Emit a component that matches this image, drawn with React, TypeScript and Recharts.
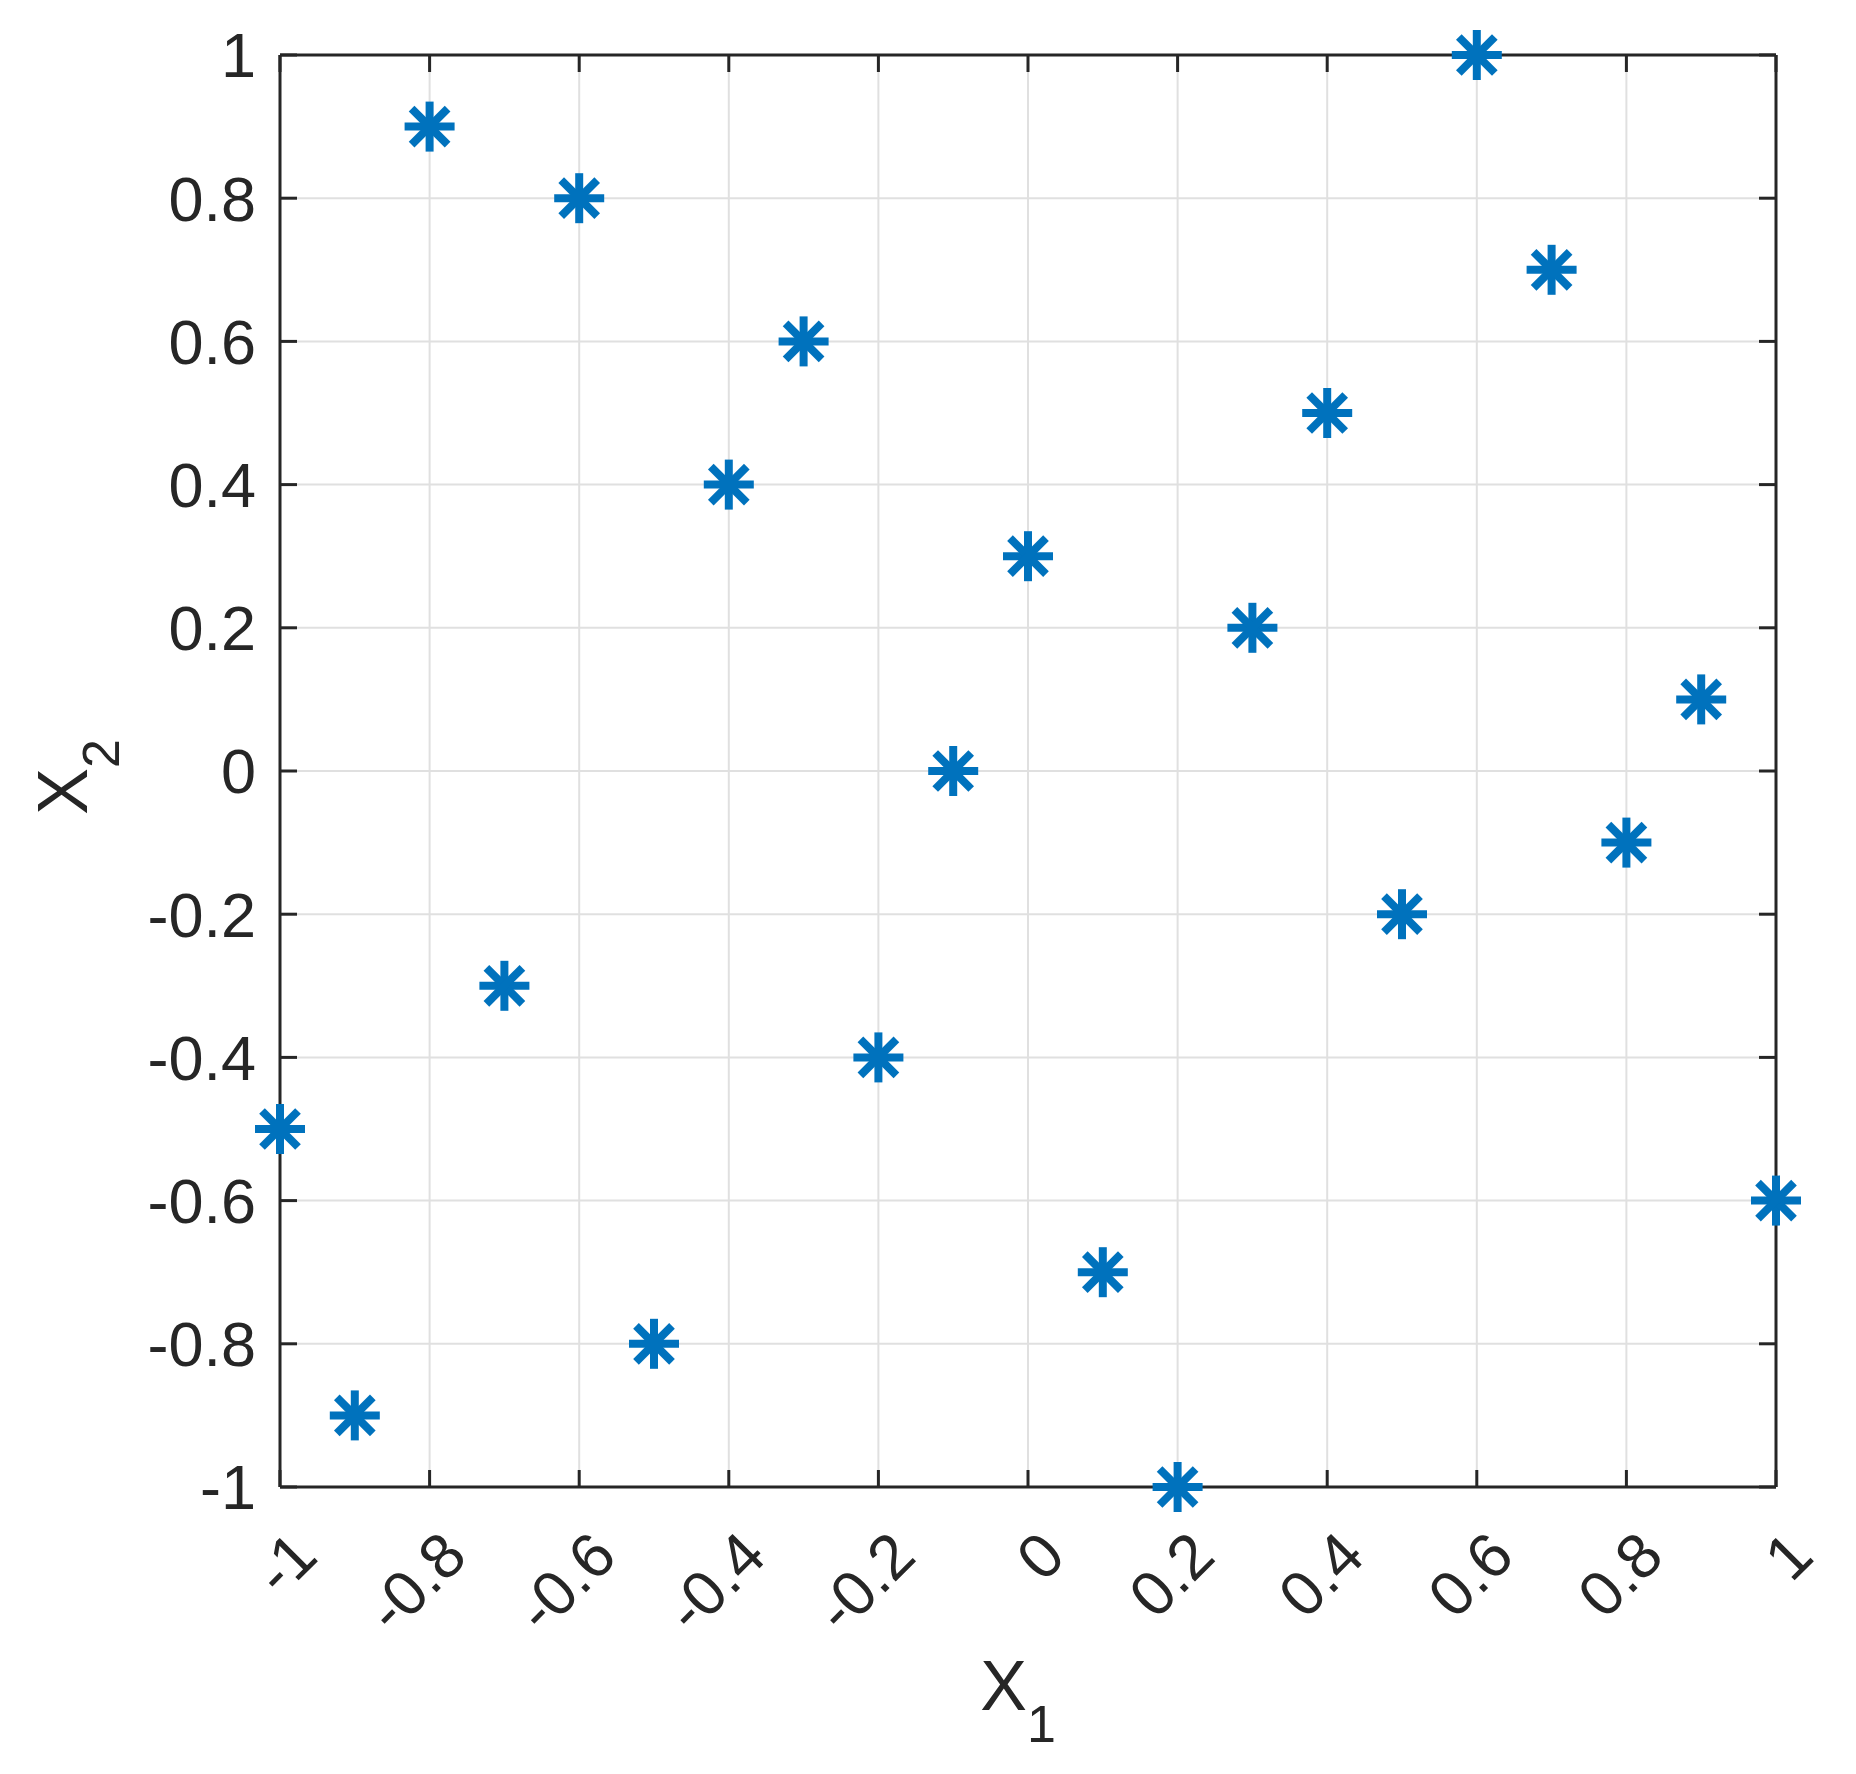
import { CartesianGrid, Scatter, ScatterChart, XAxis, YAxis } from "recharts";

const x1Values = [-1, -0.9, -0.8, -0.7, -0.6, -0.5, -0.4, -0.3, -0.2, -0.1, 0, 0.1, 0.2, 0.3, 0.4, 0.5, 0.6, 0.7, 0.8, 0.9, 1];
const x2Values = [-0.5, -0.9, 0.9, -0.3, 0.8, -0.8, 0.4, 0.6, -0.4, 0, 0.3, -0.7, -1, 0.2, 0.5, -0.2, 1, 0.7, -0.1, 0.1, -0.6];
const tickValues = [-1, -0.8, -0.6, -0.4, -0.2, 0, 0.2, 0.4, 0.6, 0.8, 1];

const points = x1Values.map((x, i) => ({ x, y: x2Values[i] }));

const FONT = "'Liberation Sans', Arial, Helvetica, sans-serif";
const INK = "#262626";
const BLUE = "#0072BD";
const TICK_FONT = 63;
const LABEL_FONT = 70;

function Asterisk(props: any) {
  const { cx, cy } = props;
  const r = 25;
  const d = 18;
  return (
    <g stroke={BLUE} strokeWidth={8}>
      <line x1={cx - r} y1={cy} x2={cx + r} y2={cy} />
      <line x1={cx} y1={cy - r} x2={cx} y2={cy + r} />
      <line x1={cx - d} y1={cy - d} x2={cx + d} y2={cy + d} />
      <line x1={cx - d} y1={cy + d} x2={cx + d} y2={cy - d} />
    </g>
  );
}

// nothing drawn: only ties the top/right frame axes to data
const NoMark = () => <g />;
const NoLabel = () => <g />;

function XTick(props: any) {
  const { x, y, payload } = props;
  const ax = x + 40;
  const ay = y + 72;
  return (
    <text x={ax} y={ay} textAnchor="end" transform={`rotate(-45, ${ax}, ${ay})`} fill={INK} fontSize={TICK_FONT} fontFamily={FONT}>
      {String(payload.value)}
    </text>
  );
}

function XLabel(props: any) {
  const { x, y, width } = props.viewBox;
  return (
    <text x={x + width / 2 - 10} y={y + 223} textAnchor="middle" fill={INK} fontSize={LABEL_FONT} fontFamily={FONT}>
      X<tspan dy={32} fontSize={52}>1</tspan>
    </text>
  );
}

function YLabel(props: any) {
  const { y, height } = props.viewBox;
  const lx = 87;
  const ly = y + height / 2 + 6;
  return (
    <text x={lx} y={ly} textAnchor="middle" transform={`rotate(-90, ${lx}, ${ly})`} fill={INK} fontSize={LABEL_FONT} fontFamily={FONT}>
      X<tspan dy={32} fontSize={52}>2</tspan>
    </text>
  );
}

const axisLine = { stroke: INK, strokeWidth: 3 };
const tickLine = { stroke: INK, strokeWidth: 3 };

export default function App() {
  return (
    <div style={{ width: 1856, height: 1774, background: "#fff" }}>
      <style>{"body{margin:0}"}</style>
      <ScatterChart width={1856} height={1774} margin={{ top: 54, right: 79, bottom: 0, left: 0 }}>
        <CartesianGrid stroke="#e0e0e0" strokeWidth={2} />
        <XAxis
          dataKey="x"
          type="number"
          domain={[-1, 1]}
          ticks={tickValues}
          height={287}
          axisLine={axisLine}
          tickLine={tickLine}
          tickSize={-17}
          tickMargin={17}
          tick={<XTick />}
          interval={0}
          label={{ content: XLabel }}
        />
        <YAxis
          dataKey="y"
          type="number"
          domain={[-1, 1]}
          ticks={tickValues}
          width={280}
          axisLine={axisLine}
          tickLine={tickLine}
          tickSize={-17}
          tickMargin={41}
          interval={0}
          tick={{ fill: INK, fontSize: TICK_FONT, fontFamily: FONT }}
          label={{ content: YLabel }}
        />
        <XAxis
          xAxisId="top"
          dataKey="x"
          orientation="top"
          type="number"
          domain={[-1, 1]}
          ticks={tickValues}
          height={1}
          axisLine={axisLine}
          tickLine={tickLine}
          tickSize={-17}
          tick={<NoLabel />}
          interval={0}
        />
        <YAxis
          yAxisId="right"
          dataKey="y"
          orientation="right"
          type="number"
          domain={[-1, 1]}
          ticks={tickValues}
          width={1}
          axisLine={axisLine}
          tickLine={tickLine}
          tickSize={-17}
          tick={<NoLabel />}
          interval={0}
        />
        <Scatter data={points} xAxisId="top" yAxisId="right" shape={NoMark} isAnimationActive={false} />
        <Scatter data={points} shape={Asterisk} isAnimationActive={false} />
      </ScatterChart>
    </div>
  );
}
